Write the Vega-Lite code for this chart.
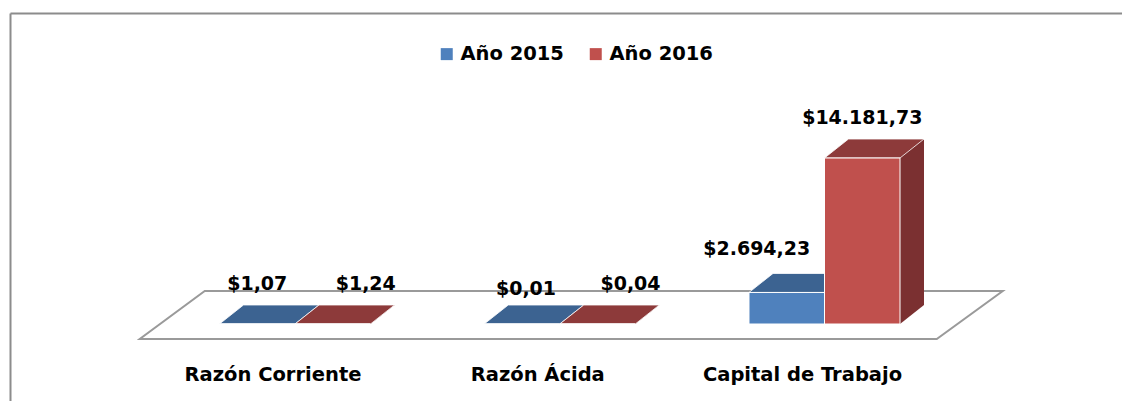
{
  "$schema": "https://vega.github.io/schema/vega-lite/v6.json",
  "width": 1112,
  "height": 388,
  "autosize": {"type": "none"},
  "padding": {"left": 10, "top": 13, "right": 0, "bottom": 0},
  "background": "white",
  "config": {
    "view": {"stroke": null},
    "font": "DejaVu Sans",
    "locale": {"number": {"decimal": ",", "thousands": ".", "grouping": [3], "currency": ["$", ""]}}
  },
  "data": {
    "values": [
      {"indicador": "Razón Corriente", "anio": "Año 2015", "valor": 1.07},
      {"indicador": "Razón Corriente", "anio": "Año 2016", "valor": 1.24},
      {"indicador": "Razón Ácida", "anio": "Año 2015", "valor": 0.01},
      {"indicador": "Razón Ácida", "anio": "Año 2016", "valor": 0.04},
      {"indicador": "Capital de Trabajo", "anio": "Año 2015", "valor": 2694.23},
      {"indicador": "Capital de Trabajo", "anio": "Año 2016", "valor": 14181.73}
    ]
  },
  "layer": [
    {
      "data": {"values": [{"piso": "base"}]},
      "mark": {"type": "point", "shape": "M -420 15 L 377 15 L 443 -33 L -355 -33 Z", "size": 4, "filled": true, "fill": "white", "stroke": "#9a9a9a", "strokeWidth": 2, "opacity": 1},
      "encoding": {
        "x": {
          "datum": "Razón Ácida", "type": "nominal",
          "scale": {"domain": ["Razón Corriente", "Razón Ácida", "Capital de Trabajo"], "paddingInner": 0, "paddingOuter": 0.60009, "align": 0.48033},
          "axis": {"orient": "bottom", "offset": -21, "domain": false, "ticks": false, "tickSize": 0, "labelPadding": 0, "labelBaseline": "alphabetic", "labelFont": "DejaVu Sans", "labelFontWeight": "bold", "labelFontSize": 19.5, "labelColor": "black", "labelOffset": -22, "labelAngle": 0, "labelLimit": 500, "title": null}
        },
        "y": {
          "datum": 0, "type": "quantitative",
          "scale": {"domain": [-6578, 26570], "nice": false, "zero": false},
          "axis": {"orient": "left", "domain": true, "domainColor": "#8c8c8c", "domainWidth": 2, "ticks": false, "labels": false, "grid": true, "gridColor": "#8c8c8c", "gridWidth": 2, "values": [26570], "title": null}
        }
      }
    },
    {
      "transform": [{"filter": "datum.anio === 'Año 2015'"}],
      "mark": {"type": "bar", "width": 24, "xOffset": 12, "yOffset": -19, "y2Offset": -19, "fill": "#355880"},
      "encoding": {
        "x": {"field": "indicador", "type": "nominal"},
        "y": {"field": "valor", "type": "quantitative"},
        "y2": {"datum": 0}
      }
    },
    {
      "transform": [{"filter": "datum.anio === 'Año 2016'"}],
      "mark": {"type": "bar", "width": 24, "xOffset": 87.5, "yOffset": -19, "y2Offset": -19, "fill": "#7B3031"},
      "encoding": {
        "x": {"field": "indicador", "type": "nominal"},
        "y": {"field": "valor", "type": "quantitative"},
        "y2": {"datum": 0}
      }
    },
    {
      "mark": {"type": "point", "shape": "M 37.75 -19 L 37.75 0 L 61.75 -19 Z", "size": 4, "filled": true, "strokeWidth": 0, "opacity": 1},
      "encoding": {
        "x": {"field": "indicador", "type": "nominal"},
        "xOffset": {
          "field": "anio", "type": "nominal",
          "scale": {"domain": ["Año 2015", "Año 2016"], "paddingInner": 0, "paddingOuter": 0.7533}
        },
        "y": {"datum": 0, "type": "quantitative"},
        "fill": {"condition": {"test": "datum.anio === 'Año 2015'", "value": "#355880"}, "value": "#7B3031"}
      }
    },
    {
      "mark": {"type": "point", "shape": "M -37.75 0 L 37.75 0 L 61.75 -19 L -13.75 -19 Z", "size": 4, "filled": true, "stroke": "white", "strokeWidth": 0.8, "opacity": 1},
      "encoding": {
        "x": {"field": "indicador", "type": "nominal"},
        "xOffset": {"field": "anio", "type": "nominal"},
        "y": {"field": "valor", "type": "quantitative"},
        "fill": {"condition": {"test": "datum.anio === 'Año 2015'", "value": "#3C6391"}, "value": "#8D3A3A"}
      }
    },
    {
      "mark": {"type": "bar", "stroke": "white", "strokeWidth": 1},
      "encoding": {
        "x": {"field": "indicador", "type": "nominal"},
        "xOffset": {"field": "anio", "type": "nominal"},
        "y": {"field": "valor", "type": "quantitative"},
        "y2": {"datum": 0},
        "color": {
          "field": "anio", "type": "nominal",
          "scale": {"domain": ["Año 2015", "Año 2016"], "range": ["#4F81BD", "#C0504D"]},
          "legend": {"orient": "none", "legendX": 427, "legendY": 31, "direction": "horizontal", "title": null, "symbolType": "square", "symbolSize": 144, "symbolStrokeWidth": 0, "symbolOpacity": 1, "labelFont": "DejaVu Sans", "labelFontWeight": "bold", "labelFontSize": 19.5, "labelColor": "black", "labelOffset": 4, "columnPadding": 22, "padding": 0}
        }
      }
    },
    {
      "transform": [{"filter": "!(datum.anio === 'Año 2016' && datum.valor < 100) && !(datum.anio === 'Año 2015' && datum.valor > 100) && !(datum.anio === 'Año 2015' && datum.valor < 0.1)"}],
      "mark": {"type": "text", "dy": -34, "baseline": "alphabetic", "align": "center", "font": "DejaVu Sans", "fontWeight": "bold", "fontSize": 19, "color": "black"},
      "encoding": {
        "x": {"field": "indicador", "type": "nominal"},
        "xOffset": {"field": "anio", "type": "nominal"},
        "y": {"field": "valor", "type": "quantitative"},
        "text": {"field": "valor", "type": "quantitative", "format": "$,.2f"}
      }
    },
    {
      "transform": [{"filter": "datum.anio === 'Año 2016' && datum.valor < 100"}],
      "mark": {"type": "text", "dx": 33, "dy": -34, "baseline": "alphabetic", "align": "center", "font": "DejaVu Sans", "fontWeight": "bold", "fontSize": 19, "color": "black"},
      "encoding": {
        "x": {"field": "indicador", "type": "nominal"},
        "xOffset": {"field": "anio", "type": "nominal"},
        "y": {"field": "valor", "type": "quantitative"},
        "text": {"field": "valor", "type": "quantitative", "format": "$,.2f"}
      }
    },
    {
      "transform": [{"filter": "datum.anio === 'Año 2015' && datum.valor > 100"}],
      "mark": {"type": "text", "dx": -30, "dy": -37, "baseline": "alphabetic", "align": "center", "font": "DejaVu Sans", "fontWeight": "bold", "fontSize": 19, "color": "black"},
      "encoding": {
        "x": {"field": "indicador", "type": "nominal"},
        "xOffset": {"field": "anio", "type": "nominal"},
        "y": {"field": "valor", "type": "quantitative"},
        "text": {"field": "valor", "type": "quantitative", "format": "$,.2f"}
      }
    },
    {
      "transform": [{"filter": "datum.anio === 'Año 2015' && datum.valor < 0.1"}],
      "mark": {"type": "text", "dx": 4, "dy": -29, "baseline": "alphabetic", "align": "center", "font": "DejaVu Sans", "fontWeight": "bold", "fontSize": 19, "color": "black"},
      "encoding": {
        "x": {"field": "indicador", "type": "nominal"},
        "xOffset": {"field": "anio", "type": "nominal"},
        "y": {"field": "valor", "type": "quantitative"},
        "text": {"field": "valor", "type": "quantitative", "format": "$,.2f"}
      }
    }
  ]
}
